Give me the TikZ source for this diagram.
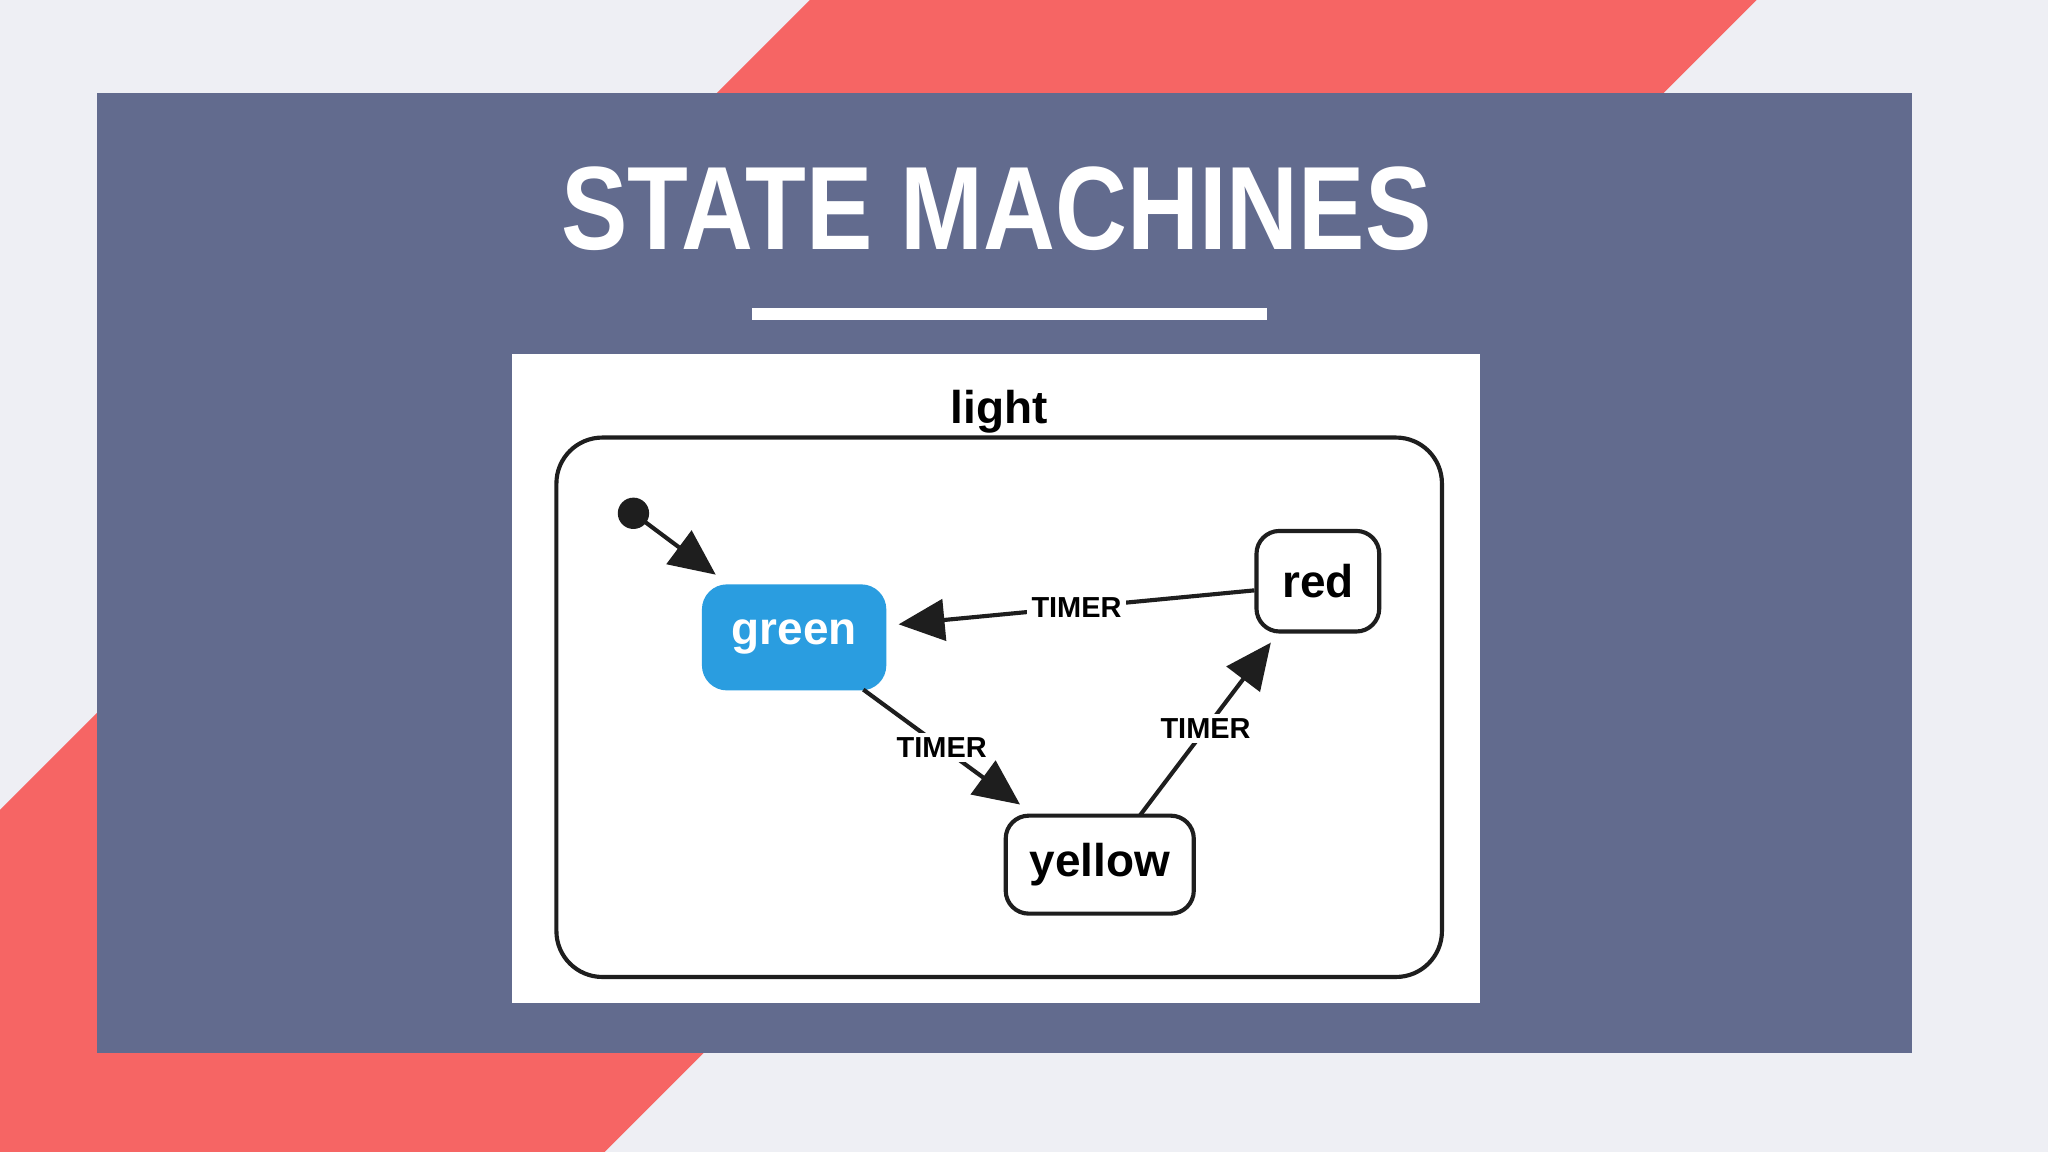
\documentclass[tikz,border=0pt]{standalone}
\usepackage{fontspec}
\setmainfont{Liberation Sans}
\usetikzlibrary{arrows.meta}
\definecolor{bgc}{HTML}{EEEFF4}
\definecolor{band}{HTML}{F66564}
\definecolor{panel}{HTML}{626B8E}
\definecolor{gblue}{HTML}{2A9DE0}
\definecolor{ink}{HTML}{1E1E1E}
\tikzset{
  st/.style={draw=ink,line width=0.9pt,rounded corners=5pt,fill=white,font=\bfseries\fontsize{10pt}{12pt}\selectfont},
  tr/.style={draw=ink,line width=0.9pt,-{Triangle[length=10pt,width=9pt]}},
  lab/.style={fill=white,inner sep=1pt,font=\bfseries\fontsize{6.3pt}{7pt}\selectfont}
}
\begin{document}
\begin{tikzpicture}[x=0.01cm,y=-0.01cm]
\fill[bgc] (0,0) rectangle (1568,882);
\fill[band] (620,0) -- (1345,0) -- (463,882) -- (0,882) -- (0,620) -- cycle;
\fill[panel] (74,71) rectangle (1464,806);
\node[text=white,font=\bfseries\fontsize{25.8pt}{30pt}\selectfont] (title) at (763,160) {\scalebox{0.84}[1]{STATE MACHINES}};
\fill[white] (576,236) rectangle (970,245);
\fill[white] (392,271) rectangle (1133,768);
\node[font=\bfseries\fontsize{10pt}{12pt}\selectfont] (lt) at (765,315) {light};
\draw[ink,line width=0.9pt,rounded corners=10pt] (426,335) rectangle (1104,748);
\fill[ink] (485,393) circle (12) coordinate (dot);
\node[st,draw=gblue,fill=gblue,text=white,minimum width=138*0.01cm,minimum height=78*0.01cm] (green) at (608,488) {green};
\node[st,minimum width=94*0.01cm,minimum height=77*0.01cm] (red) at (1009,445) {red};
\node[st,minimum width=144*0.01cm,minimum height=75*0.01cm] (yellow) at (842,662) {yellow};
\draw[tr] (dot) -- (548,440);
\draw[tr] (red.west) ++(0,7) -- (688,478) node[lab,pos=0.5] {TIMER};
\draw[tr] (661,528) -- (781,616) node[lab,pos=0.5] {TIMER};
\draw[tr] (873,624) -- (973,492) node[lab,pos=0.5] {TIMER};
\end{tikzpicture}
\end{document}
